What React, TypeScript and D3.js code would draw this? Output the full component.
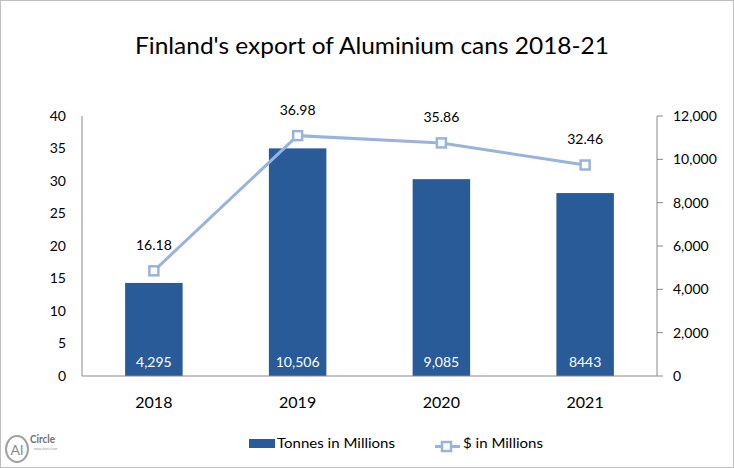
import React from "react";
import * as d3 from "d3";

const years = ["2018", "2019", "2020", "2021"];
const tonnes = [4295, 10506, 9085, 8443];
const tonnesLabels = ["4,295", "10,506", "9,085", "8443"];
const dollars = [16.18, 36.98, 35.86, 32.46];
const leftTicks = [0, 5, 10, 15, 20, 25, 30, 35, 40];
const rightTicks = [0, 2000, 4000, 6000, 8000, 10000, 12000];

const W = 734, H = 468;
const FONT = "Lato, 'Open Sans', sans-serif";
const BAR = "#295B99";
const LINE = "#98B4DA";

export default function App() {
  const x0 = 82, x1 = 657, yTop = 116, yBot = 376;
  const x = d3.scaleBand<string>().domain(years).range([x0, x1]).paddingInner(0.6).paddingOuter(0.3);
  const xc = (d: string) => (x(d) as number) + x.bandwidth() / 2;
  const yL = d3.scaleLinear().domain([0, 40]).range([yBot, yTop]);
  const yR = d3.scaleLinear().domain([0, 12000]).range([yBot, yTop]);
  const line = d3.line<number>().x((_, i) => xc(years[i])).y((d) => yL(d));
  const fmt = d3.format(",");
  return (
    <svg width={W} height={H} style={{ position: "absolute", left: 0, top: 0 }} fontFamily={FONT}>
      <rect x={0.5} y={0.5} width={W - 1} height={H - 1} fill="#fff" stroke="#BFBFBF" />
      <text x={135} y={54} fontSize={23} fill="#000" textLength={474} lengthAdjust="spacingAndGlyphs">
        Finland's export of Aluminium cans 2018-21
      </text>
      {/* left axis */}
      <line x1={x0} x2={x0} y1={yTop} y2={yBot} stroke="#898989" />
      {leftTicks.map((t) => (
        <text key={t} x={66} y={yL(t)} dy="0.35em" textAnchor="end" fontSize={14} fill="#000">
          {t}
        </text>
      ))}
      {/* right axis */}
      <line x1={x1} x2={x1} y1={yTop} y2={yBot} stroke="#898989" />
      {rightTicks.map((t) => (
        <g key={t}>
          <line x1={x1} x2={x1 + 6} y1={yR(t)} y2={yR(t)} stroke="#898989" />
          <text x={673} y={yR(t)} dy="0.35em" textAnchor="start" fontSize={14} fill="#000">
            {fmt(t)}
          </text>
        </g>
      ))}
      {/* bars */}
      {years.map((yr, i) => (
        <g key={yr}>
          <rect x={x(yr)} y={yR(tonnes[i])} width={x.bandwidth()} height={yBot - yR(tonnes[i])} fill={BAR} />
          <text x={xc(yr)} y={362} dy="0.35em" textAnchor="middle" fontSize={14} fill="#fff">
            {tonnesLabels[i]}
          </text>
        </g>
      ))}
      <line x1={x0} x2={x1} y1={yBot} y2={yBot} stroke="#898989" />
      {/* line */}
      <path d={line(dollars) as string} fill="none" stroke={LINE} strokeWidth={3} />
      {dollars.map((v, i) => (
        <g key={i}>
          <rect x={xc(years[i]) - 4.5} y={yL(v) - 4.5} width={9} height={9} fill="#fff" stroke={LINE} strokeWidth={2.5} />
          <text x={xc(years[i])} y={yL(v) - 26} dy="0.35em" textAnchor="middle" fontSize={14} fill="#000">
            {v.toFixed(2)}
          </text>
        </g>
      ))}
      {/* category labels */}
      {years.map((yr) => (
        <text key={yr} x={xc(yr)} y={402} dy="0.35em" textAnchor="middle" fontSize={16} fill="#000">
          {yr}
        </text>
      ))}
      {/* legend */}
      <rect x={249} y={439} width={26} height={9} fill={BAR} />
      <text x={277} y={448} fontSize={14} fill="#000" textLength={118} lengthAdjust="spacingAndGlyphs">Tonnes in Millions</text>
      <line x1={435} x2={460} y1={446.5} y2={446.5} stroke={LINE} strokeWidth={3} />
      <rect x={442} y={442} width={9} height={9} fill="#fff" stroke={LINE} strokeWidth={2.5} />
      <text x={463} y={448} fontSize={14} fill="#000" textLength={80} lengthAdjust="spacingAndGlyphs">$ in Millions</text>
      {/* logo */}
      <ellipse cx={17} cy={449} rx={11} ry={13} fill="none" stroke="#A0A0A0" strokeWidth={2} />
      <text x={17} y={450} dy="0.35em" textAnchor="middle" fontSize={14} fill="#8A8A8A">Al</text>
      <text x={30} y={443} fontSize={11} fontWeight="bold" fill="#707070" textLength={25} lengthAdjust="spacingAndGlyphs">Circle</text>
      <text x={34} y={450} fontSize={3} fill="#999">www.alcircle.com</text>
    </svg>
  );
}
